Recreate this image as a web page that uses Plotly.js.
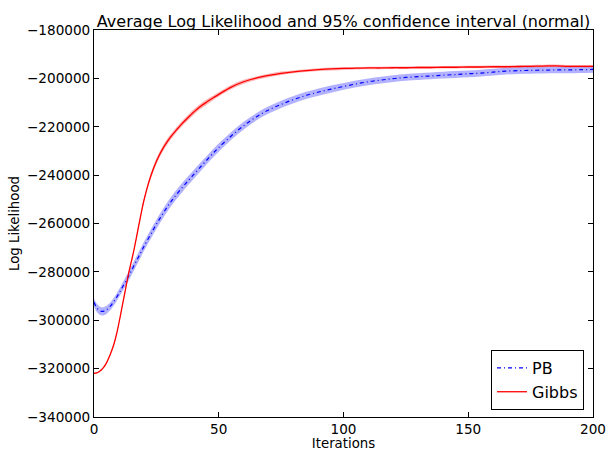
<!DOCTYPE html>
<html>
<head>
<meta charset="utf-8">
<script src="https://cdn.plot.ly/plotly-3.0.1.min.js"></script>
<style>html,body{margin:0;padding:0;background:#fff}#chart{width:607px;height:451px}</style>
</head>
<body>
<div id="chart"></div>
<script>
const iterations = [0,1,2,3,4,5,6,7,8,9,10,11,12,13,14,15,16,17,18,19,20,22,24,26,28,30,32,35,38,40,42,45,48,50,55,60,65,70,75,80,85,90,95,100,105,110,115,120,125,130,135,140,145,150,155,160,165,170,175,180,185,190,195,200];

const gibbsMean = [-322000,-321800,-321300,-320500,-319300,-317600,-315400,-312800,-309800,-305900,-301100,-295800,-290500,-285200,-280000,-275600,-271000,-265800,-260500,-255300,-250500,-242800,-236800,-232100,-228300,-225200,-222600,-219000,-215900,-213900,-212100,-209900,-207900,-206600,-203600,-201400,-199900,-198800,-197900,-197300,-196800,-196400,-196100,-195900,-195800,-195700,-195700,-195600,-195600,-195500,-195500,-195400,-195400,-195300,-195300,-195200,-195200,-195100,-195000,-194900,-194800,-195000,-195000,-195000];

const gibbsCI = [300,300,300,300,300,300,300,300,300,300,300,500,500,500,500,500,500,800,800,800,800,1200,1200,1200,1200,1200,1100,1100,1100,1100,1100,1100,900,900,900,800,700,700,700,600,600,600,600,600,500,500,500,500,500,500,500,500,500,500,500,500,500,500,500,500,500,500,500,500];

const pbMean = [-292600,-294700,-295800,-296300,-296200,-295700,-294800,-293600,-292200,-290600,-288900,-287100,-285200,-283400,-281500,-279500,-277500,-275500,-273500,-271500,-269500,-265800,-262100,-258600,-255300,-252200,-249400,-245600,-242000,-239700,-237400,-234000,-230700,-228600,-223800,-219550,-215950,-213050,-210750,-208750,-207050,-205650,-204450,-203350,-202300,-201400,-200700,-200100,-199600,-199300,-199000,-198700,-198400,-198100,-197800,-197400,-197000,-196800,-196700,-196600,-196500,-196500,-196400,-196300];

const pbCI = [1700,1700,1700,1700,1700,1700,1600,1600,1600,1600,1600,1700,1700,1800,1900,1900,1900,1900,1900,1900,1900,1900,1900,1900,1900,1900,1900,1900,1800,1800,1800,1700,1700,1700,1600,1600,1500,1500,1500,1500,1500,1500,1500,1400,1400,1400,1400,1400,1400,1400,1400,1400,1400,1400,1400,1400,1400,1400,1400,1400,1400,1400,1400,1400];

const xTickVals = [0,50,100,150,200];
const xTickText = ["0","50","100","150","200"];
const yTickVals = [-340000,-320000,-300000,-280000,-260000,-240000,-220000,-200000,-180000];
const yTickText = ["\u2212340000","\u2212320000","\u2212300000","\u2212280000","\u2212260000","\u2212240000","\u2212220000","\u2212200000","\u2212180000"];

const lower = (m, c) => m.map((v, i) => v - c[i]);
const upper = (m, c) => m.map((v, i) => v + c[i]);

const FONT = "DejaVu Sans, sans-serif";
const traces = [
  {x: iterations, y: lower(pbMean, pbCI), mode: 'lines', line: {width: 0, shape: 'spline'}, showlegend: false, hoverinfo: 'skip'},
  {x: iterations, y: upper(pbMean, pbCI), mode: 'lines', line: {width: 0, shape: 'spline'}, fill: 'tonexty', fillcolor: 'rgba(0,0,255,0.3)', showlegend: false, hoverinfo: 'skip'},
  {x: iterations, y: lower(gibbsMean, gibbsCI), mode: 'lines', line: {width: 0, shape: 'spline'}, showlegend: false, hoverinfo: 'skip'},
  {x: iterations, y: upper(gibbsMean, gibbsCI), mode: 'lines', line: {width: 0, shape: 'spline'}, fill: 'tonexty', fillcolor: 'rgba(255,0,0,0.3)', showlegend: false, hoverinfo: 'skip'},
  {x: iterations, y: pbMean, mode: 'lines', name: 'PB', line: {color: '#0000ff', width: 1.2, dash: '4px,3px,1px,3px', shape: 'spline'}},
  {x: iterations, y: gibbsMean, mode: 'lines', name: 'Gibbs', line: {color: '#ff0000', width: 1.3, shape: 'spline'}}
];

const axisCommon = {
  showgrid: false, zeroline: false, showline: true, linecolor: '#000', linewidth: 1,
  mirror: 'ticks', ticks: 'inside', ticklen: 5, tickcolor: '#000', tickwidth: 1,
  tickfont: {family: FONT, size: 13.6, color: '#000'}, tickmode: 'array'
};

const layout = {
  width: 607, height: 451,
  margin: {l: 94, r: 14, t: 30, b: 34},
  paper_bgcolor: '#fff', plot_bgcolor: '#fff',
  font: {family: FONT, color: '#000'},
  title: {text: 'Average Log Likelihood and 95% confidence interval (normal)', font: {family: FONT, size: 16, color: '#000'},
          x: 0.5, xref: 'paper', xanchor: 'center', y: 1, yref: 'paper', yanchor: 'bottom', pad: {b: 3}},
  xaxis: Object.assign({}, axisCommon, {range: [0, 200], tickvals: xTickVals, ticktext: xTickText,
          title: {text: 'Iterations', font: {family: FONT, size: 13.3, color: '#000'}, standoff: 7}}),
  yaxis: Object.assign({}, axisCommon, {range: [-340000, -180000], tickvals: yTickVals, ticktext: yTickText,
          title: {text: 'Log Likelihood', font: {family: FONT, size: 13.3, color: '#000'}, standoff: 4}}),
  legend: {x: 0.982, xanchor: 'right', y: 0.018, yanchor: 'bottom', bordercolor: '#000', borderwidth: 1,
           bgcolor: '#fff', font: {family: FONT, size: 16, color: '#000'}, itemwidth: 30, tracegroupgap: 0,
           traceorder: 'normal'},
  showlegend: true
};

Plotly.newPlot('chart', traces, layout, {displayModeBar: false, staticPlot: true});
</script>
</body>
</html>
